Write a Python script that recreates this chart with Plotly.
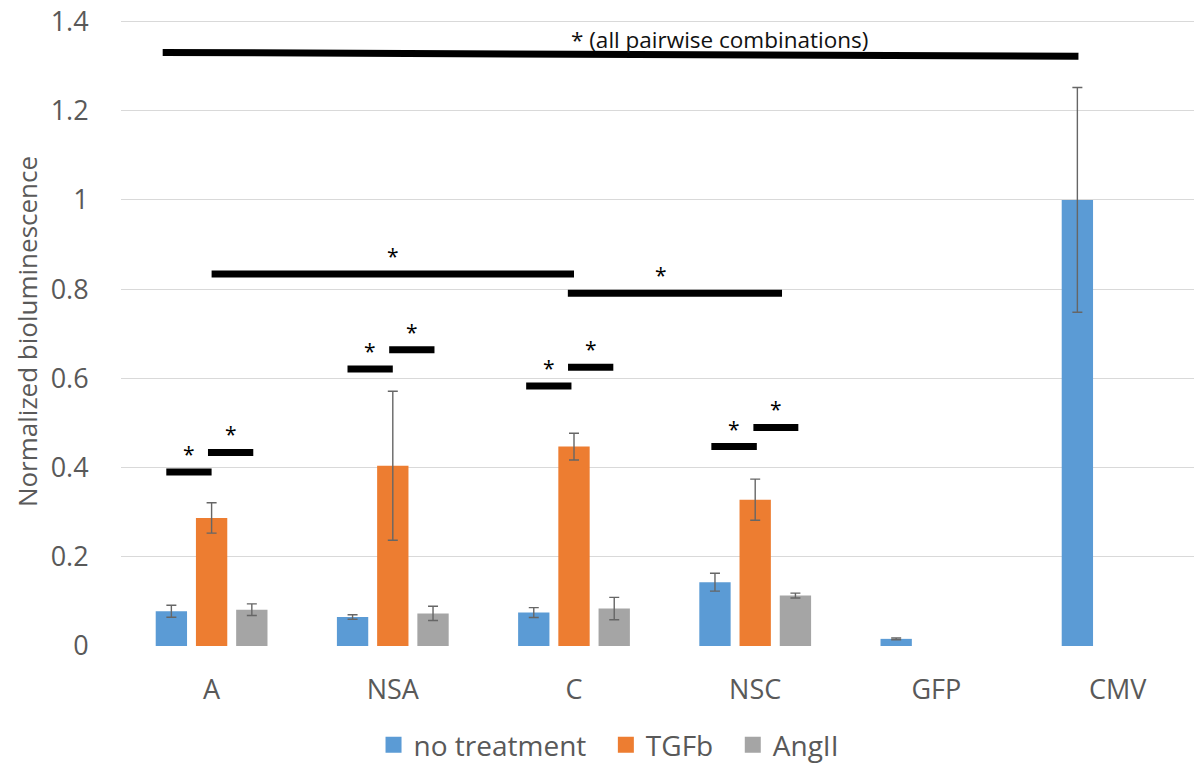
import plotly.graph_objects as go

categories = ["A", "NSA", "C", "NSC", "GFP", "CMV"]
series_names = ["no treatment", "TGFb", "AngII"]
colors = ["#5B9BD5", "#ED7D31", "#A5A5A5"]

no_treatment = [0.078, 0.065, 0.075, 0.143, 0.016, 1.000]
no_treatment_err = [0.0135, 0.005, 0.011, 0.020, 0.002, 0.252]
tgfb = [0.287, 0.404, 0.447, 0.328, None, None]
tgfb_err = [0.034, 0.167, 0.030, 0.046, None, None]
angii = [0.0815, 0.073, 0.084, 0.113, None, None]
angii_err = [0.013, 0.016, 0.025, 0.0055, None, None]

y_ticks = [0, 0.2, 0.4, 0.6, 0.8, 1.0, 1.2, 1.4]
y_tick_labels = ["0", "0.2", "0.4", "0.6", "0.8", "1", "1.2", "1.4"]

# significance bars: x start / end in category units, y level, star x (None = centred)
sig_x0 = [-0.25, -0.02, 0.75, 0.98, 1.736, 1.967, 2.758, 2.99, 0.0, 1.966]
sig_x1 = [0.0, 0.23, 1.0, 1.23, 1.986, 2.217, 3.009, 3.238, 2.0, 3.148]
sig_y = [0.390, 0.434, 0.621, 0.664, 0.583, 0.625, 0.447, 0.490, 0.834, 0.791]
sig_star_x = [None, None, None, None, None, None, None, None, None, 2.48]

top_x0, top_x1 = -0.270, 4.784
top_y0, top_y1 = 1.3305, 1.322
top_label = "* (all pairwise combinations)"
top_label_x, top_label_y = 2.802, 1.360

FONT = "Open Sans, Noto Sans, sans-serif"
GREY = "#595959"
NB = "\u00a0"

# the page body has an 8 px margin, so the figure is 8 px smaller than the window
W, H = 1194, 755

fig = go.Figure()
values = [no_treatment, tgfb, angii]
errors = [no_treatment_err, tgfb_err, angii_err]
for name, col, v, e in zip(series_names, colors, values, errors):
    fig.add_trace(go.Bar(
        x=categories, y=v, name=name, marker=dict(color=col, line=dict(width=0)),
        error_y=dict(type="data", array=e, visible=True, color="#666666",
                     thickness=1.4, width=5),
        showlegend=False,
    ))
# legend entries
legend_pad = [NB * 2, NB * 2, ""]
for name, col, pad in zip(series_names, colors, legend_pad):
    fig.add_trace(go.Scatter(
        x=[None], y=[None], mode="markers", name=name + pad,
        marker=dict(symbol="square", size=18, color=col),
    ))

shapes = []
annotations = []
for x0, x1, yv, sx in zip(sig_x0, sig_x1, sig_y, sig_star_x):
    shapes.append(dict(type="line", xref="x", yref="y", x0=x0, x1=x1, y0=yv, y1=yv,
                       line=dict(color="black", width=7)))
    annotations.append(dict(x=(x0 + x1) / 2 if sx is None else sx, y=yv, xref="x", yref="y",
                            text="*", showarrow=False, yanchor="middle", yshift=18,
                            font=dict(family=FONT, size=21, color="black")))
shapes.append(dict(type="line", xref="x", yref="y", x0=top_x0, x1=top_x1, y0=top_y0, y1=top_y1,
                   line=dict(color="black", width=7)))
annotations.append(dict(x=top_label_x, y=top_label_y, xref="x", yref="y", text=top_label,
                        showarrow=False, yanchor="middle",
                        font=dict(family=FONT, size=22.5, color="#111111")))

fig.update_layout(
    width=W, height=H,
    margin=dict(l=113, r=0, t=9, b=117, autoexpand=False),
    paper_bgcolor="white", plot_bgcolor="white",
    barmode="group", bargap=0.334, bargroupgap=0.221,
    font=dict(family=FONT, color=GREY),
    shapes=shapes, annotations=annotations,
    legend=dict(orientation="h", x=0.451, xanchor="center",
                yref="container", y=18 / H, yanchor="middle",
                font=dict(family=FONT, size=28, color=GREY), itemsizing="trace"),
)
fig.update_xaxes(
    range=[-0.5, -0.5 + 1081 / 181.2], showgrid=False, showline=False, zeroline=False,
    ticks="outside", ticklen=20, tickcolor="rgba(0,0,0,0)", automargin=False,
    tickfont=dict(family=FONT, size=27, color=GREY),
)
fig.update_yaxes(
    range=[0, 1.41], tickvals=y_ticks, ticktext=y_tick_labels,
    showgrid=True, gridcolor="#D9D9D9", gridwidth=1, zeroline=False, showline=False,
    ticks="outside", ticklen=26, tickcolor="rgba(0,0,0,0)", automargin=False,
    ticklabeloverflow="allow",
    tickfont=dict(family=FONT, size=27, color=GREY),
    title=dict(text="Normalized bioluminescence", standoff=5,
               font=dict(family=FONT, size=26, color=GREY)),
)

fig.write_html("out.html")
